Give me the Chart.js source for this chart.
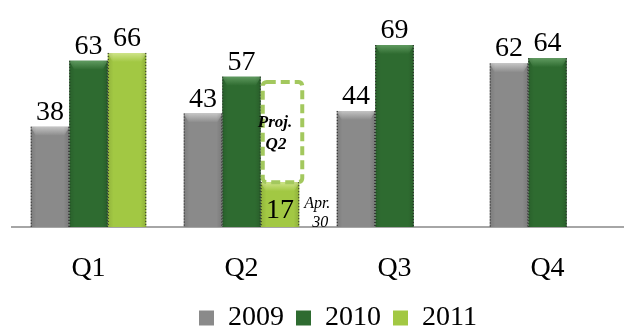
<!DOCTYPE html>
<html>
<head>
<meta charset="utf-8">
<script src="https://cdn.jsdelivr.net/npm/chart.js@4/dist/chart.umd.min.js"></script>
<style>
  html, body { margin: 0; padding: 0; background: #fff; }
  #wrap { width: 624px; height: 328px; }
</style>
</head>
<body>
<div id="wrap"><canvas id="barChart" width="624" height="328"></canvas></div>
<script>
// chart data
var quarters = ['Q1', 'Q2', 'Q3', 'Q4'];
var years = ['2009', '2010', '2011'];
var sales2009 = [38, 43, 44, 62];
var sales2010 = [63, 57, 69, 64];
var sales2011 = [66, 17, null, null];
var proj2011 = [null, 55, null, null];   // dashed "Proj. Q2" box top
var barColors = ['#8a8a8a', '#2e6b30', '#a2c843'];
var bevelColors = ['#c4c4c4', '#5f9a5f', '#cfe48a'];

var serif = "'Liberation Serif', 'Times New Roman', serif";

// draws bevels, dotted edges, value labels and the projection box
var barDecor = {
  id: 'barDecor',
  afterLayout: function(chart) {
    // nudge legend to the right like the original
    chart.legend.left += 40;
  },
  afterDatasetsDraw: function(chart) {
    var ctx = chart.ctx;
    var yScale = chart.scales.y;
    chart.data.datasets.forEach(function(ds, di) {
      var meta = chart.getDatasetMeta(di);
      meta.data.forEach(function(el, i) {
        var v = ds.data[i];
        if (v === null || v === undefined) return;
        var left = el.x - el.width / 2, right = el.x + el.width / 2;
        var top = el.y, base = el.base;
        ctx.save();
        // top bevel
        var g = ctx.createLinearGradient(0, top, 0, top + 9);
        g.addColorStop(0, bevelColors[di]);
        g.addColorStop(1, barColors[di]);
        ctx.fillStyle = g;
        ctx.beginPath();
        ctx.moveTo(left, top);
        ctx.lineTo(right, top);
        ctx.lineTo(right - 5, top + 9);
        ctx.lineTo(left + 5, top + 9);
        ctx.closePath();
        ctx.fill();
        // side shading
        var h = ctx.createLinearGradient(left, 0, right, 0);
        h.addColorStop(0, 'rgba(0,0,0,0.10)');
        h.addColorStop(0.15, 'rgba(0,0,0,0)');
        h.addColorStop(0.85, 'rgba(0,0,0,0)');
        h.addColorStop(1, 'rgba(0,0,0,0.12)');
        ctx.fillStyle = h;
        ctx.fillRect(left, top, right - left, base - top);
        // dotted edges
        ctx.setLineDash([1, 2]);
        ctx.strokeStyle = '#222';
        ctx.lineWidth = 1;
        ctx.beginPath();
        ctx.moveTo(left + 0.5, top);
        ctx.lineTo(left + 0.5, base);
        ctx.moveTo(right - 0.5, top);
        ctx.lineTo(right - 0.5, base);
        ctx.stroke();
        ctx.setLineDash([]);
        // value label
        ctx.fillStyle = '#000';
        ctx.font = '28px ' + serif;
        ctx.textAlign = 'center';
        ctx.textBaseline = 'alphabetic';
        if (di === 2 && proj2011[i] !== null) {
          ctx.fillText(String(v), el.x, base - 9);
        } else {
          ctx.fillText(String(v), el.x, top - 7);
        }
        ctx.restore();

        // projection box for 2011
        if (di === 2 && proj2011[i] !== null) {
          var yTop = yScale.getPixelForValue(proj2011[i]);
          ctx.save();
          ctx.strokeStyle = '#a3c85e';
          ctx.lineWidth = 4;
          ctx.setLineDash([9, 5]);
          ctx.beginPath();
          ctx.roundRect(left + 2, yTop, right - left + 1, top - yTop, 4);
          ctx.stroke();
          ctx.setLineDash([]);
          ctx.fillStyle = '#000';
          ctx.textAlign = 'center';
          ctx.font = 'italic bold 17px ' + serif;
          ctx.fillText('Proj.', el.x - 5, yTop + 41);
          ctx.fillText('Q2', el.x - 4, yTop + 63);
          ctx.font = 'italic 16px ' + serif;
          ctx.fillText('Apr.', right + 18, base - 23);
          ctx.fillText('30', right + 21, base - 4);
          ctx.restore();
        }
      });
    });
  }
};

var ctx = document.getElementById('barChart').getContext('2d');
new Chart(ctx, {
  type: 'bar',
  data: {
    labels: quarters,
    datasets: [
      { label: years[0], data: sales2009, backgroundColor: barColors[0] },
      { label: years[1], data: sales2010, backgroundColor: barColors[1] },
      { label: years[2], data: sales2011, backgroundColor: barColors[2] }
    ]
  },
  options: {
    responsive: false,
    animation: false,
    devicePixelRatio: 1,
    layout: { padding: { top: 16, left: 12, right: 0, bottom: -14 } },
    datasets: { bar: { barPercentage: 1, categoryPercentage: 0.755 } },
    plugins: {
      tooltip: { enabled: false },
      legend: {
        display: true,
        position: 'bottom',
        labels: {
          color: '#000',
          font: { family: serif, size: 28 },
          boxWidth: 15,
          boxHeight: 15,
          padding: 12
        }
      }
    },
    scales: {
      x: {
        grid: { display: false, drawTicks: false },
        border: { display: true, color: '#a6a6a6', width: 2 },
        ticks: { color: '#000', font: { family: serif, size: 28 }, padding: 25 },
        afterFit: function(scale) { scale.height = 65; }
      },
      y: { display: false, min: 0, max: 80 }
    }
  },
  plugins: [barDecor]
});
</script>
</body>
</html>
